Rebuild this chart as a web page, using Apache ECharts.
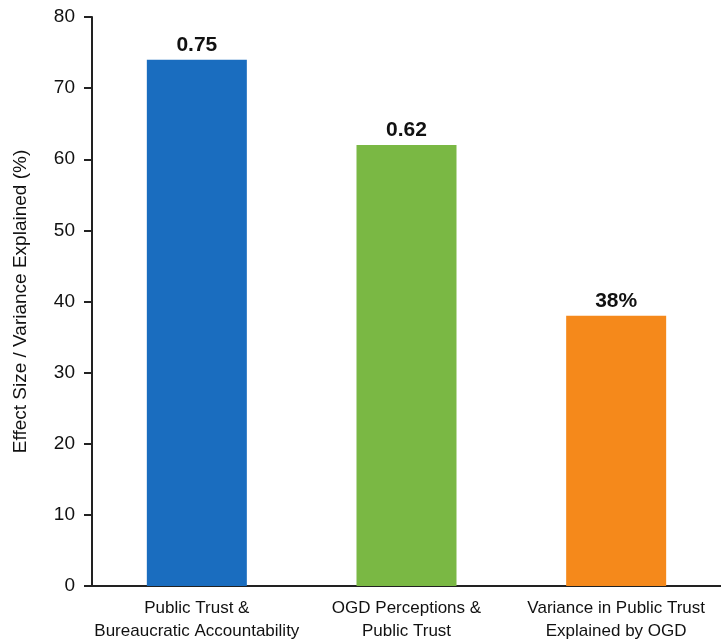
<!DOCTYPE html>
<html>
<head>
<meta charset="utf-8">
<script src="https://cdn.jsdelivr.net/npm/echarts@6/dist/echarts.min.js"></script>
<style>html,body{margin:0;padding:0;background:#fff;}#c{width:721px;height:643px;}</style>
</head>
<body>
<div id="c"></div>
<script>
const categories = ['Public Trust &\nBureaucratic Accountability', 'OGD Perceptions &\nPublic Trust', 'Variance in Public Trust\nExplained by OGD'];
const values = [74, 62, 38];
const valueLabels = ['0.75', '0.62', '38%'];
const barColors = ['#1a6dbf', '#7ab844', '#f5891b'];
const yTicks = [0, 10, 20, 30, 40, 50, 60, 70, 80];

const FONT = 'Liberation Sans, Arial, sans-serif';
const chart = echarts.init(document.getElementById('c'));
chart.setOption({
  animation: false,
  grid: { left: 92, right: 0, top: 17, bottom: 56, containLabel: false },
  xAxis: {
    type: 'category',
    data: categories,
    axisLine: { lineStyle: { color: '#222', width: 2 } },
    axisTick: { show: false },
    axisLabel: { interval: 0, color: '#111', fontSize: 17, lineHeight: 23, margin: 11, fontFamily: FONT }
  },
  yAxis: {
    type: 'value',
    min: yTicks[0], max: yTicks[yTicks.length - 1], interval: 10,
    name: 'Effect Size / Variance Explained (%)',
    nameLocation: 'middle',
    nameGap: 62,
    nameTextStyle: { color: '#111', fontSize: 19, fontFamily: FONT },
    axisLine: { show: true, lineStyle: { color: '#222', width: 2 } },
    axisTick: { show: true, length: 8, lineStyle: { color: '#222', width: 2 } },
    splitLine: { show: false },
    axisLabel: { color: '#111', fontSize: 19, margin: 17, fontFamily: FONT }
  },
  series: [{
    type: 'bar',
    barWidth: 100,
    data: values.map((v, i) => ({ value: v, itemStyle: { color: barColors[i] } })),
    label: {
      show: true,
      position: 'top',
      distance: 4,
      formatter: p => valueLabels[p.dataIndex],
      color: '#111',
      fontSize: 21,
      fontWeight: 'bold',
      fontFamily: FONT
    }
  }]
});
</script>
</body>
</html>
